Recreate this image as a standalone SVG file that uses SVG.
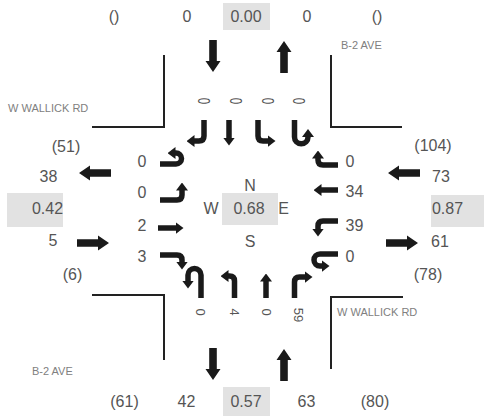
<svg xmlns="http://www.w3.org/2000/svg" xmlns:xlink="http://www.w3.org/1999/xlink" width="484" height="416" viewBox="0 0 484 416">
<style>
text{font-family:"Liberation Sans",Arial,sans-serif;fill:#555;}
.n{font-size:16px;text-anchor:middle;}
.ne{font-size:16px;text-anchor:end;}
.ns{font-size:16px;text-anchor:start;}
.r{font-size:13px;text-anchor:middle;dominant-baseline:central;}
.road{font-size:11px;fill:#808080;}
.box{fill:#e2e2e2;}
.ln{fill:none;stroke:#222;stroke-width:2;}
.t{fill:none;stroke:#1a1a1a;stroke-width:5.5;stroke-linejoin:round;marker-end:url(#h);}
.big{fill:#1a1a1a;}
</style>
<defs>
<marker id="h" viewBox="0 0 8 12" refX="0.5" refY="6" markerWidth="8" markerHeight="12" markerUnits="userSpaceOnUse" orient="auto"><path d="M0,0 L8,6 L0,12 Z" fill="#1a1a1a"/></marker>
<path id="ba" d="M0,-3.8 H21 V-7.5 L32,0 L21,7.5 V3.8 H0 Z"/>
</defs>
<rect width="484" height="416" fill="#fff"/>

<g id="roads">
<path class="ln" d="M164,55 V127 H92"/>
<path class="ln" d="M331,55 V127 H402"/>
<path class="ln" d="M92,295 H164 V360"/>
<path class="ln" d="M403,297 H331 V369"/>
<text class="road" x="8" y="112">W WALLICK RD</text>
<text class="road" x="341" y="49">B-2 AVE</text>
<text class="road" x="337" y="316">W WALLICK RD</text>
<text class="road" x="32" y="375">B-2 AVE</text>
</g>

<g id="north">
<text class="n" x="114" y="22">()</text>
<text class="n" x="187" y="22">0</text>
<rect class="box" x="223" y="3" width="47" height="27"/>
<text class="n" x="246" y="22">0.00</text>
<text class="n" x="307" y="22">0</text>
<text class="n" x="377" y="22">()</text>
<text class="r" transform="translate(204,101) rotate(90) scale(0.9,1.3)">0</text>
<text class="r" transform="translate(236,101) rotate(90) scale(0.9,1.3)">0</text>
<text class="r" transform="translate(268,101) rotate(90) scale(0.9,1.3)">0</text>
<text class="r" transform="translate(299,101) rotate(90) scale(0.9,1.3)">0</text>
</g>

<g id="west">
<text class="n" x="66" y="152">(51)</text>
<text class="n" x="48.5" y="182">38</text>
<rect class="box" x="7" y="193" width="56" height="34"/>
<text class="n" x="47.5" y="214">0.42</text>
<text class="n" x="53" y="246">5</text>
<text class="n" x="72.5" y="280">(6)</text>
<text class="ne" x="146.5" y="167">0</text>
<text class="ne" x="146.5" y="198">0</text>
<text class="ne" x="146.5" y="231">2</text>
<text class="ne" x="146.5" y="262">3</text>
</g>

<g id="east">
<text class="n" x="433" y="151">(104)</text>
<text class="n" x="441" y="182">73</text>
<rect class="box" x="431" y="195" width="53" height="32"/>
<text class="n" x="447.5" y="214">0.87</text>
<text class="n" x="440" y="247">61</text>
<text class="n" x="428" y="280">(78)</text>
<text class="ns" x="345.5" y="167">0</text>
<text class="ns" x="345.5" y="197">34</text>
<text class="ns" x="345.5" y="231">39</text>
<text class="ns" x="345.5" y="262">0</text>
</g>

<g id="south">
<text class="n" x="124.5" y="407">(61)</text>
<text class="n" x="186.5" y="407">42</text>
<rect class="box" x="223" y="387" width="47" height="29"/>
<text class="n" x="246" y="407">0.57</text>
<text class="n" x="306.5" y="407">63</text>
<text class="n" x="375" y="407">(80)</text>
<text class="r" transform="translate(200,312) rotate(90)">0</text>
<text class="r" transform="translate(234,312) rotate(90)">4</text>
<text class="r" transform="translate(266,312) rotate(90)">0</text>
<text class="r" transform="translate(298,315) rotate(90)">59</text>
</g>

<g id="center">
<rect class="box" x="222" y="193" width="56" height="32"/>
<text class="n" x="249" y="214">0.68</text>
<text class="n" x="250" y="191">N</text>
<text class="n" x="211" y="214">W</text>
<text class="n" x="283.5" y="214">E</text>
<text class="n" x="250" y="247">S</text>
</g>

<g id="connectors">
<use class="big" xlink:href="#ba" href="#ba" transform="translate(213,40) rotate(90)"/>
<use class="big" xlink:href="#ba" href="#ba" transform="translate(284,73) rotate(-90)"/>
<use class="big" xlink:href="#ba" href="#ba" transform="translate(111,173) rotate(180)"/>
<use class="big" xlink:href="#ba" href="#ba" transform="translate(77,243)"/>
<use class="big" xlink:href="#ba" href="#ba" transform="translate(420,173) rotate(180)"/>
<use class="big" xlink:href="#ba" href="#ba" transform="translate(386,243)"/>
<use class="big" xlink:href="#ba" href="#ba" transform="translate(213,348) rotate(90)"/>
<use class="big" xlink:href="#ba" href="#ba" transform="translate(284,381) rotate(-90)"/>

<path class="t" d="M204,120 V136 Q204,141 199,141 H194"/>
<path class="t" d="M229,120 V138"/>
<path class="t" d="M258,120 V136 Q258,141 263,141 H268"/>
<path class="t" d="M294.5,120 V137 A6.75,6.75 0 0 0 308,137 L308,136.5"/>

<path class="t" d="M160,164 H176 A5.5,5.5 0 0 0 176,153 H175"/>
<path class="t" d="M160,200 H177 Q182,200 182,195 V190"/>
<path class="t" d="M158,228 H176"/>
<path class="t" d="M160,255 H177 Q182,255 182,260 V262"/>

<path class="t" d="M338,165 H323 Q318,165 318,160 V158"/>
<path class="t" d="M338,190 H321"/>
<path class="t" d="M338,221 H323 Q318,221 318,226 V229"/>
<path class="t" d="M338,254 H320 A6,6 0 0 0 320,266 H322"/>

<path class="t" d="M201,298 V275 A6.5,6.5 0 0 0 188,275 V281"/>
<path class="t" d="M234.5,298 V281 Q234.5,276 229.5,276 H228"/>
<path class="t" d="M266,298 V281"/>
<path class="t" d="M294.5,298 V282 Q294.5,277 299.5,277 H305"/>
</g>
</svg>
